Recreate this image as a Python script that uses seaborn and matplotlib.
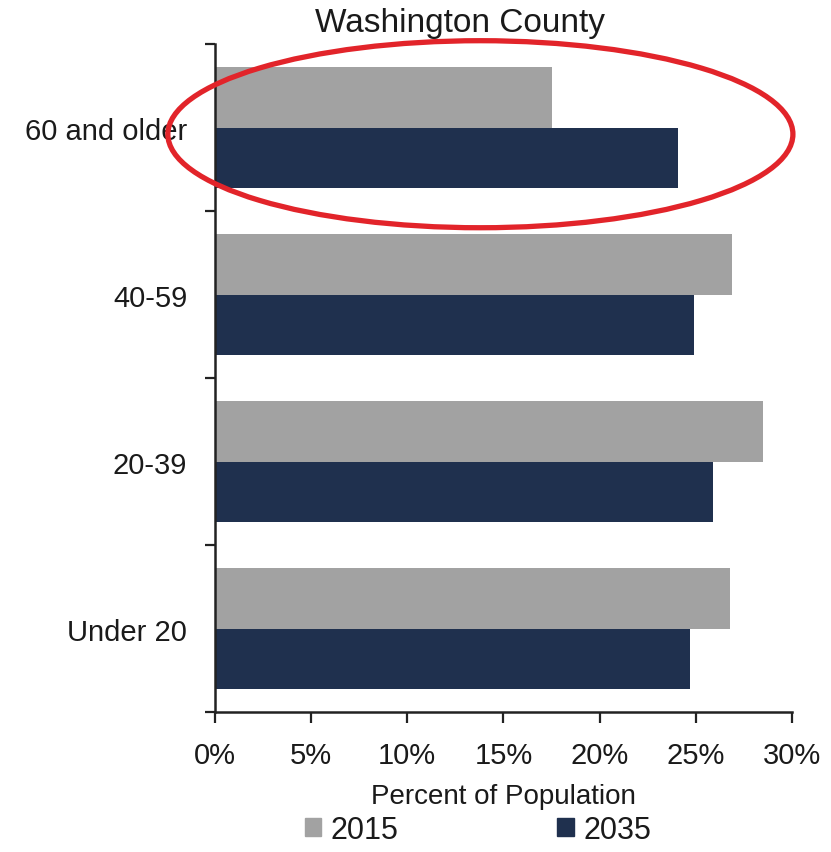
import matplotlib
matplotlib.use("Agg")
import matplotlib.pyplot as plt
from matplotlib.patches import Ellipse
from matplotlib.ticker import FuncFormatter, FixedLocator
import seaborn as sns
import pandas as pd

# Age groups, top to bottom
age_groups = ["60 and older", "40-59", "20-39", "Under 20"]
years = ["2015", "2035"]
share_2015 = [17.5, 26.9, 28.5, 26.8]
share_2035 = [24.1, 24.9, 25.9, 24.7]
x_ticks = [0, 5, 10, 15, 20, 25, 30]

df = pd.DataFrame({
    "age": age_groups * 2,
    "year": [years[0]] * 4 + [years[1]] * 4,
    "share": share_2015 + share_2035,
})

sns.set_theme(style="white")
plt.rcParams["font.family"] = ["Liberation Sans", "DejaVu Sans"]

fig = plt.figure(figsize=(8.31, 8.53), dpi=100)
ax = fig.add_axes([0.2587, 0.1641, 0.953 - 0.2587, 0.9472 - 0.1641])

palette = {"2015": "#a2a2a2", "2035": "#1f304e"}
sns.barplot(data=df, x="share", y="age", hue="year", order=age_groups,
            hue_order=years, palette=palette, width=0.72, orient="h",
            saturation=1, linewidth=0, ax=ax, legend=False)

ax.set_xlim(0, 30)
ax.set_ylim(3.5, -0.5)

# x axis
ax.xaxis.set_major_locator(FixedLocator(x_ticks))
ax.xaxis.set_major_formatter(FuncFormatter(lambda v, p: f"{v:.0f}%"))
ax.tick_params(axis="x", which="major", direction="out", length=8, width=1.6,
               color="#222222", labelsize=21, pad=13, bottom=True,
               labelcolor="#1a1a1a")

# y axis: ticks at group boundaries, labels centred on groups
ax.yaxis.set_major_locator(FixedLocator([-0.5, 0.5, 1.5, 2.5, 3.5]))
ax.yaxis.set_major_formatter(FuncFormatter(lambda v, p: ""))
ax.yaxis.set_minor_locator(FixedLocator([0, 1, 2, 3]))
ax.yaxis.set_minor_formatter(FuncFormatter(lambda v, p: age_groups[int(round(v))]))
ax.tick_params(axis="y", which="major", direction="out", length=7, width=1.6,
               color="#222222", left=True)
ax.tick_params(axis="y", which="minor", length=0, labelsize=21, pad=20,
               labelcolor="#1a1a1a")

for side in ["top", "right"]:
    ax.spines[side].set_visible(False)
for side in ["left", "bottom"]:
    ax.spines[side].set_color("#222222")
    ax.spines[side].set_linewidth(1.8)

ax.set_xlabel("Percent of Population", fontsize=20, color="#1a1a1a", labelpad=10)
ax.set_ylabel("")

fig.text(0.553, 0.972, "Washington County", ha="center", va="center",
         fontsize=24, color="#1a1a1a")

# Highlight the oldest age group
ax.add_patch(Ellipse((13.8, 0.04), 32.5, 1.12, fill=False, edgecolor="#e2242a",
                     linewidth=3.8, clip_on=False, zorder=5))

# Legend
handles = [plt.Rectangle((0, 0), 1, 1, color=palette[y]) for y in years]
fig.legend(handles, years, loc="center", bbox_to_anchor=(0.575, 0.026),
           ncol=2, frameon=False, fontsize=22, handlelength=0.55,
           handleheight=0.55, handletextpad=0.3, columnspacing=5.2,
           labelcolor="#1a1a1a")

fig.savefig("out.png", dpi=100, facecolor="white")
